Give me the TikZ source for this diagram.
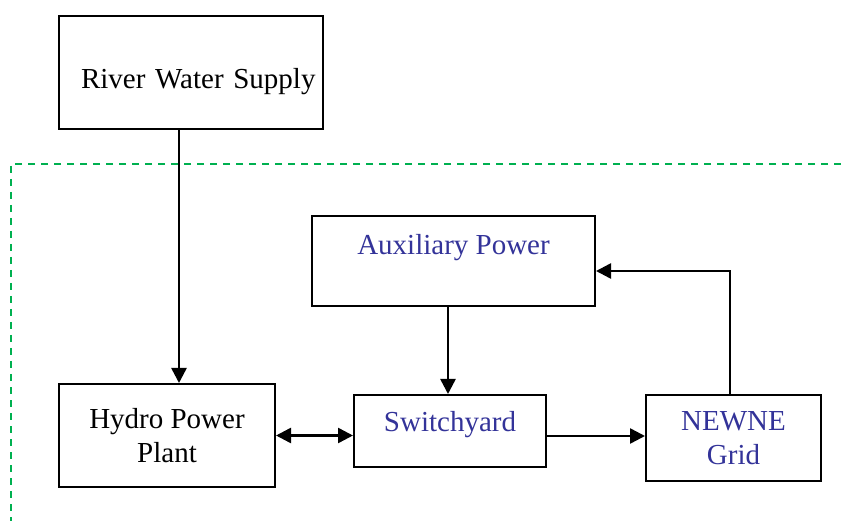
\documentclass[tikz,border=0pt]{standalone}
\usepackage{fontspec}
\setmainfont{Liberation Serif}
\usetikzlibrary{arrows.meta}
\definecolor{zonegreen}{RGB}{0,176,80}
\definecolor{labelblue}{RGB}{51,51,153}

\begin{document}
\begin{tikzpicture}[x=1pt,y=-1pt,line width=2pt,>={Triangle[length=15pt,width=15pt]},
  box/.style={draw,rectangle,inner sep=0pt,align=center,font=\fontsize{29}{34}\selectfont},
  flow/.style={line width=2.5pt,->}]
\useasboundingbox (0,0) rectangle (841,521);
% station boundary, dashed green
\draw[zonegreen,line width=1.8pt,dash pattern=on 7pt off 6pt] (841,164) -- (11,164) -- (11,521);
% blocks
\node[box,text width=250pt,inner xsep=7pt,align=right,minimum height=113pt,text height=39pt] (river) at (190.5,72.5) {River Water Supply};
\node[box,minimum width=216pt,minimum height=103pt] (hydro) at (167,435.5) {Hydro Power\\Plant};
\node[box,text=labelblue,minimum width=283pt,minimum height=90pt,text depth=34pt] (aux) at (453.5,261) {Auxiliary Power};
\node[box,text=labelblue,minimum width=192pt,minimum height=72pt,text depth=20pt] (switch) at (450,431) {Switchyard};
\node[box,text=labelblue,minimum width=175pt,minimum height=86pt] (grid) at (733.5,438) {NEWNE\\Grid};
% connections
\draw[flow] ([xshift=-11.5pt]river.south) -- ([xshift=12pt]hydro.north);
\draw[flow,<->] (hydro.east) -- (hydro.east -| switch.west);
\draw[flow] ([xshift=-5.5pt]aux.south) -- ([xshift=-5.5pt]aux.south |- switch.north);
\draw[flow] ([yshift=-5pt]switch.east) -- ([yshift=-5pt]switch.east -| grid.west);
\draw[flow] ([xshift=-3.5pt]grid.north) |- ([yshift=-10pt]aux.east);
\end{tikzpicture}
\end{document}
